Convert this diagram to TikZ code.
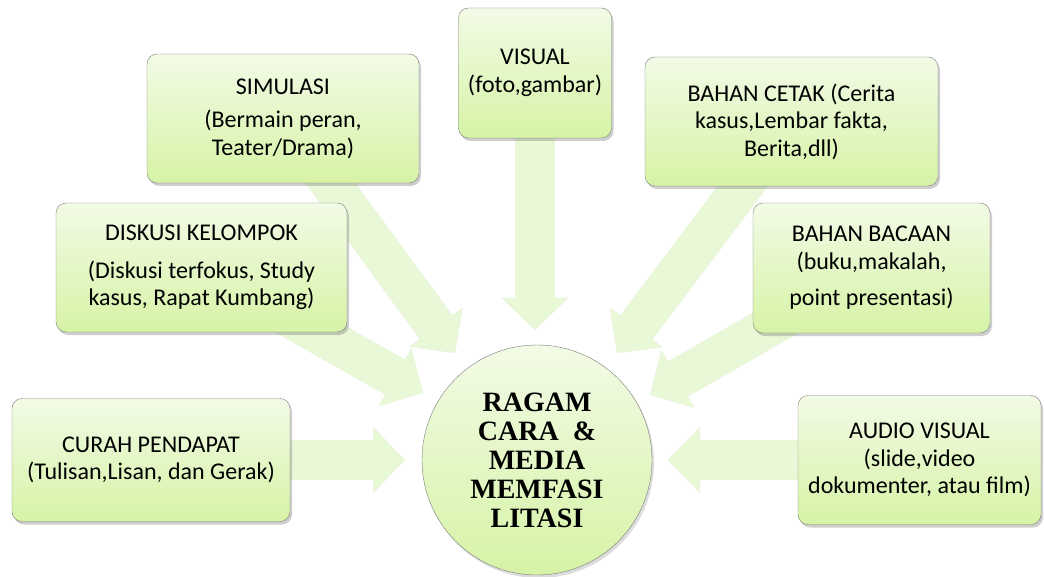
\documentclass[tikz,border=0pt]{standalone}
\usepackage{fontspec}
\setmainfont{Carlito}
\newfontfamily\hubfont{Liberation Serif}
\usetikzlibrary{arrows.meta,shadows,backgrounds}

\definecolor{boxtop}{RGB}{242,251,230}
\definecolor{boxbot}{RGB}{214,243,166}
\definecolor{boxline}{RGB}{125,125,125}
\definecolor{arrowfill}{RGB}{233,248,214}

\tikzset{
  box/.style={draw=boxline, rounded corners=10pt, top color=boxtop, bottom color=boxbot,
    align=center, inner sep=0pt, font=\fontsize{24}{27.5}\selectfont,
    drop shadow={shadow xshift=2pt, shadow yshift=-3pt, opacity=.35, fill=black!55}},
  hubnode/.style={circle, draw=boxline, top color=boxtop, bottom color=boxbot,
    align=center, inner sep=0pt, minimum size=230pt,
    font=\hubfont\bfseries\fontsize{28}{29}\selectfont,
    drop shadow={shadow xshift=2pt, shadow yshift=-3pt, opacity=.25, fill=black!55}},
  bigarrow/.style={draw=arrowfill, line width=40pt, -{Triangle[width=64pt,length=32pt]}},
  arrowshadow/.style={bigarrow, draw=black!13, xshift=2pt, yshift=-3pt}
}

\begin{document}
\begin{tikzpicture}[x=1pt,y=-1pt]
\useasboundingbox (0,0) rectangle (1044,577);

% the centre
\node[hubnode] (hub) at (537,460) {RAGAM\\CARA\ \ \&\\MEDIA\\MEMFASI\\LITASI};

% the methods
\node[box, minimum width=278pt, minimum height=123pt] (curah) at (151,460) {CURAH PENDAPAT\\(Tulisan,Lisan, dan Gerak)};
\node[box, minimum width=291pt, minimum height=129pt] (diskusi) at (201.5,267.5) {DISKUSI KELOMPOK\\[10pt](Diskusi terfokus, Study\\kasus, Rapat Kumbang)};
\node[box, minimum width=272pt, minimum height=129pt] (simul) at (283,118.5) {SIMULASI\\[6pt](Bermain peran,\\Teater/Drama)};
\node[box, minimum width=153pt, minimum height=130pt] (visual) at (535,73) {VISUAL\\(foto,gambar)};
\node[box, minimum width=293pt, minimum height=129pt] (cetak) at (791.5,121.5) {BAHAN CETAK (Cerita\\kasus,Lembar fakta,\\Berita,dll)};
\node[box, minimum width=237pt, minimum height=130pt] (bacaan) at (871.5,268) {BAHAN BACAAN\\(buku,makalah,\\[9pt]point presentasi)};
\node[box, minimum width=243pt, minimum height=129pt] (audio) at (919.5,460) {AUDIO VISUAL\\(slide,video\\dokumenter, atau film)};

% arrow tips round the centre
\coordinate (t-curah) at (405,460);
\coordinate (t-diskusi) at (423,393);
\coordinate (t-simul) at (455,353);
\coordinate (t-visual) at (535,330);
\coordinate (t-cetak) at (617,353);
\coordinate (t-bacaan) at (650,395);
\coordinate (t-audio) at (668,460);

\begin{pgfonlayer}{background}
\foreach \src in {curah,diskusi,simul,visual,cetak,bacaan,audio}
  \draw[arrowshadow] (\src.center) -- (t-\src);
\foreach \src in {curah,diskusi,simul,visual,cetak,bacaan,audio}
  \draw[bigarrow] (\src.center) -- (t-\src);
\end{pgfonlayer}
\end{tikzpicture}
\end{document}
